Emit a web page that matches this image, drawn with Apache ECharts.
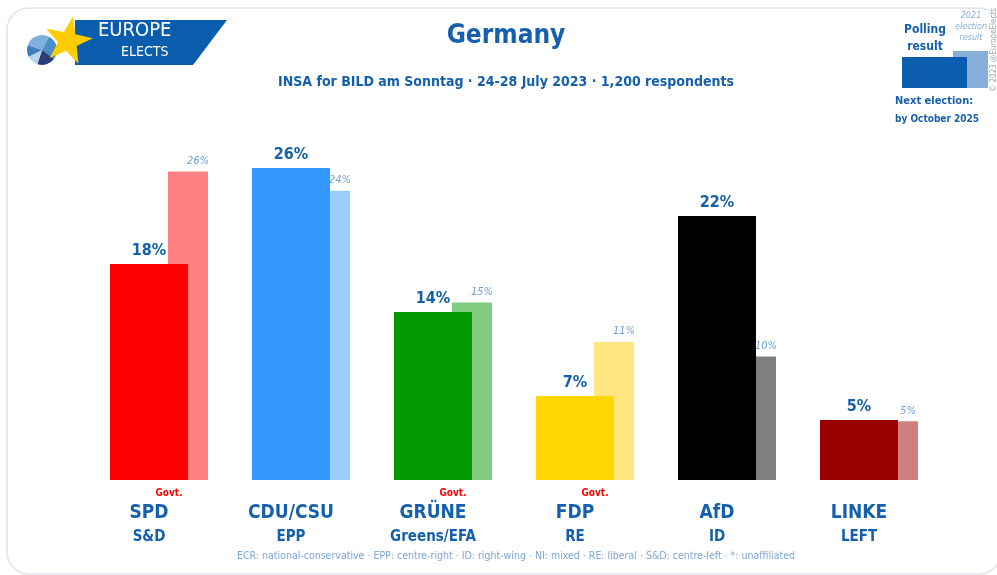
<!DOCTYPE html>
<html>
<head>
<meta charset="utf-8">
<title>Germany poll</title>
<script src="https://cdn.jsdelivr.net/npm/echarts@6/dist/echarts.min.js"></script>
<style>
  html, body { margin: 0; padding: 0; background: #fff; }
  #main { width: 997px; height: 575px; }
</style>
</head>
<body>
<div id="main"></div>
<script>
var parties = ['SPD', 'CDU/CSU', 'GRÜNE', 'FDP', 'AfD', 'LINKE'];
var groups = ['S&D', 'EPP', 'Greens/EFA', 'RE', 'ID', 'LEFT'];
var govt = [true, false, true, true, false, false];
var poll = [18, 26, 14, 7, 22, 5];
var result2021 = [25.7, 24.1, 14.8, 11.5, 10.3, 4.9];
var result2021Labels = ['26%', '24%', '15%', '11%', '10%', '5%'];
var mainColors = ['#ff0000', '#3399ff', '#009900', '#ffd700', '#000000', '#990000'];
var prevColors = ['#ff8080', '#99ccff', '#80cc80', '#ffe680', '#808080', '#cc8080'];

var font = '"DejaVu Sans Condensed", "Liberation Sans Narrow", sans-serif';
var blue = '#1560ad';
var lightBlue = '#6fa0d8';

var chart = echarts.init(document.getElementById('main'));

// star points for the logo
var starPts = [];
for (var i = 0; i < 10; i++) {
    var r = i % 2 === 0 ? 25 : 10;
    var a = -Math.PI / 2 + i * Math.PI / 5 + 0.2;
    starPts.push([68 + r * Math.cos(a), 41 + r * Math.sin(a)]);
}

var option = {
    animation: false,
    textStyle: { fontFamily: font },
    grid: { left: 88, width: 852, top: 120, height: 360 },
    xAxis: {
        type: 'category',
        data: parties,
        axisLine: { show: false },
        axisTick: { show: false },
        axisLabel: {
            margin: 6,
            interval: 0,
            formatter: function (v, i) {
                var g = govt[i] ? '{g|Govt.}' : '{g| }';
                return g + '\n{n|' + v + '}\n{s|' + groups[i] + '}';
            },
            rich: {
                g: { color: '#ff0000', fontSize: 10, fontWeight: 'bold', lineHeight: 14, padding: [0, 0, 0, 20], fontFamily: font },
                n: { color: blue, fontSize: 19, fontWeight: 'bold', lineHeight: 27, padding: [0, 20, 0, 0], fontFamily: font },
                s: { color: blue, fontSize: 15, fontWeight: 'bold', lineHeight: 20, padding: [0, 20, 0, 0], fontFamily: font }
            }
        }
    },
    yAxis: {
        type: 'value',
        min: 0,
        max: 30,
        show: false,
        splitLine: { show: false }
    },
    series: [
        {
            name: 'Polling result',
            type: 'bar',
            z: 3,
            barWidth: 78,
            barGap: '-25.64%',
            data: poll.map(function (v, i) {
                return { value: v, itemStyle: { color: mainColors[i] } };
            }),
            label: {
                show: true,
                position: 'top',
                distance: 5,
                formatter: '{c}%',
                color: blue,
                fontSize: 16,
                fontWeight: 'bold',
                fontFamily: font
            }
        },
        {
            name: '2021 election result',
            type: 'bar',
            z: 2,
            barWidth: 40,
            data: result2021.map(function (v, i) {
                return { value: v, itemStyle: { color: prevColors[i] } };
            }),
            label: {
                show: true,
                position: 'top',
                distance: 5,
                offset: [10, 0],
                formatter: function (p) { return result2021Labels[p.dataIndex]; },
                color: lightBlue,
                fontSize: 11,
                fontStyle: 'italic',
                fontFamily: font
            }
        }
    ],
    graphic: [
        // card
        { type: 'rect', z: -10, shape: { x: 7, y: 8, width: 994, height: 566, r: 22 },
          style: { fill: '#fff', stroke: '#dfe5ed', lineWidth: 1.5 } },
        // logo band
        { type: 'polygon', shape: { points: [[75, 20], [227, 20], [193, 65], [75, 65]] },
          style: { fill: '#0a5cad' } },
        { type: 'sector', shape: { cx: 42, cy: 50, r: 15, startAngle: -Math.PI * 0.9, endAngle: -Math.PI * 0.35 }, style: { fill: '#7fb0dc' } },
        { type: 'sector', shape: { cx: 42, cy: 50, r: 15, startAngle: -Math.PI * 0.35, endAngle: Math.PI * 0.2 }, style: { fill: '#4a8ec8' } },
        { type: 'sector', shape: { cx: 42, cy: 50, r: 15, startAngle: Math.PI * 0.2, endAngle: Math.PI * 0.6 }, style: { fill: '#2a3f7a' } },
        { type: 'sector', shape: { cx: 42, cy: 50, r: 15, startAngle: Math.PI * 0.6, endAngle: Math.PI * 0.85 }, style: { fill: '#b9d4ee' } },
        { type: 'sector', shape: { cx: 42, cy: 50, r: 15, startAngle: Math.PI * 0.85, endAngle: Math.PI * 1.1 }, style: { fill: '#3f7fc0' } },
        { type: 'polygon', shape: { points: starPts }, style: { fill: '#ffcc00' } },
        { type: 'text', left: 98, top: 21, style: { text: 'EUROPE', fill: '#fff', font: '20px ' + font } },
        { type: 'text', left: 121, top: 45, style: { text: 'ELECTS', fill: '#fff', font: '14px ' + font } },
        // titles
        { type: 'text', x: 506, y: 23, style: { text: 'Germany', fill: blue, font: 'bold 26px ' + font, align: 'center' } },
        { type: 'text', x: 506, y: 75, style: { text: 'INSA for BILD am Sonntag · 24-28 July 2023 · 1,200 respondents', fill: blue, font: 'bold 14px ' + font, align: 'center' } },
        // legend box
        { type: 'rect', shape: { x: 953, y: 51, width: 35, height: 37 }, style: { fill: '#85afd9' } },
        { type: 'rect', shape: { x: 902, y: 57, width: 65, height: 31 }, style: { fill: '#0a5cad' } },
        { type: 'text', x: 925, y: 21, style: { text: 'Polling\nresult', fill: blue, font: 'bold 12px ' + font, align: 'center', lineHeight: 17 } },
        { type: 'text', x: 971, y: 10, style: { text: '2021\nelection\nresult', fill: '#8aaedb', font: 'italic 9px ' + font, align: 'center', lineHeight: 11 } },
        { type: 'text', x: 895, y: 96, style: { text: 'Next election:', fill: blue, font: 'bold 11px ' + font } },
        { type: 'text', x: 895, y: 114, style: { text: 'by October 2025', fill: blue, font: 'bold 10px ' + font } },
        { type: 'text', x: 990, y: 92, rotation: Math.PI / 2, style: { text: '© 2023 @EuropeElects', fill: '#9aa8b8', font: '8px ' + font } },
        // footer
        { type: 'text', x: 516, y: 551, style: { text: 'ECR: national-conservative · EPP: centre-right · ID: right-wing · NI: mixed · RE: liberal · S&D: centre-left · *: unaffiliated', fill: '#7ba6d6', font: '10.5px ' + font, align: 'center' } }
    ]
};

chart.setOption(option);
window.onresize = function () { chart.resize(); };
</script>
</body>
</html>
